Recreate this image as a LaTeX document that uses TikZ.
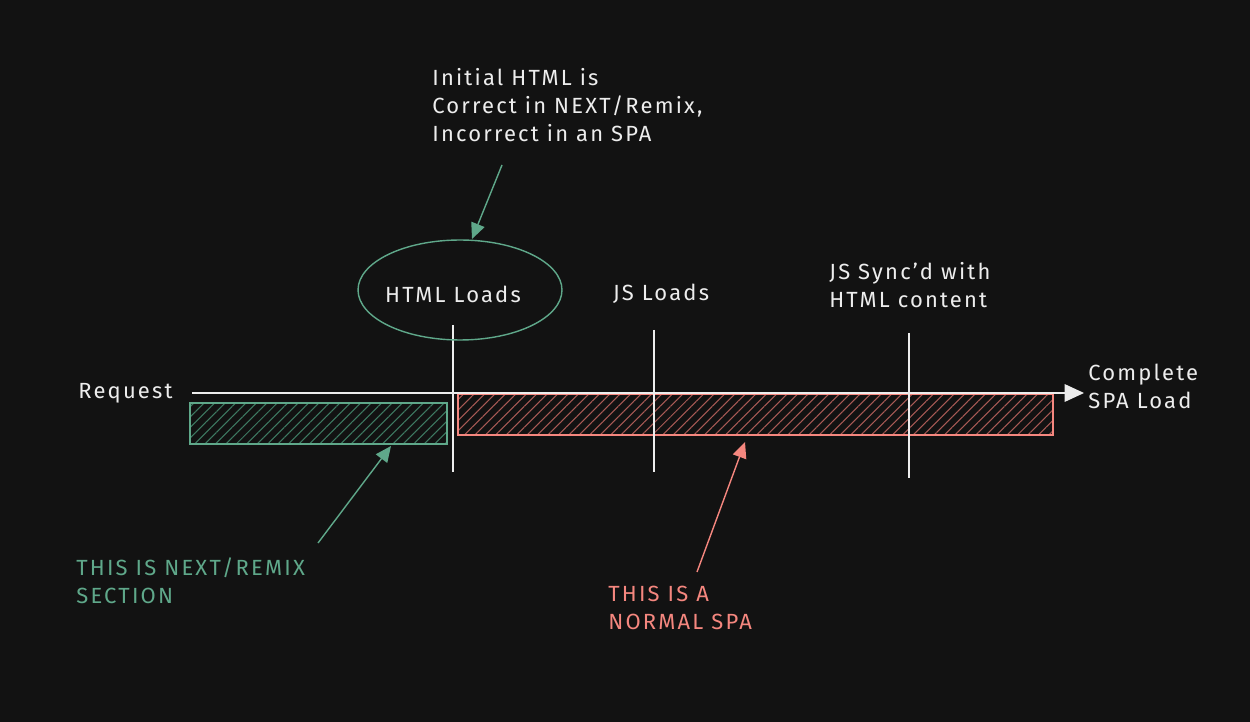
\documentclass[tikz,border=0pt]{standalone}
\usepackage{fontspec}
\setmainfont{Fira Sans}[LetterSpace=10]
\usetikzlibrary{arrows.meta,patterns.meta,shapes.geometric}
\definecolor{bg}{HTML}{121212}
\definecolor{grn}{HTML}{5FA88A}
\definecolor{grnh}{HTML}{3E7A62}
\definecolor{rd}{HTML}{F5877F}
\definecolor{rdh}{HTML}{A85A55}
\definecolor{wht}{HTML}{EDEDED}
\tikzset{
  lbl/.style={text=wht,font=\fontsize{12.5}{16}\selectfont,align=left,inner sep=0pt},
  tick/.style={draw=wht,line width=0.7pt},
  garrow/.style={draw=grn,line width=0.8pt,-{Triangle[length=9pt,width=8pt]}},
  rarrow/.style={draw=rd,line width=0.8pt,-{Triangle[length=9pt,width=8pt]}},
}
\begin{document}
\begin{tikzpicture}[x=0.02cm,y=-0.02cm]
\fill[bg] (0,0) rectangle (1250,722);
\useasboundingbox (0,0) rectangle (1250,722);
% bars
\draw[grn,line width=0.8pt,pattern={Lines[angle=45,distance=4.2pt,line width=0.6pt]},pattern color=grnh] (190,403) rectangle (447,444);
\draw[rd,line width=0.8pt,pattern={Lines[angle=45,distance=4.2pt,line width=0.6pt]},pattern color=rdh] (458,394) rectangle (1053,435);
% ticks
\coordinate (t1a) at (453,325); \coordinate (t1b) at (453,472);
\coordinate (t2a) at (654,330); \coordinate (t2b) at (654,472);
\coordinate (t3a) at (909,333); \coordinate (t3b) at (909,478);
\draw[tick] (t1a) -- (t1b);
\draw[tick] (t2a) -- (t2b);
\draw[tick] (t3a) -- (t3b);
% timeline
\coordinate (ls) at (192,393);
\coordinate (le) at (1084,393);
\draw[draw=wht,line width=0.7pt,-{Triangle[length=11pt,width=10pt]}] (ls) -- (le);
% ellipse
\node[ellipse,draw=grn,line width=0.8pt,minimum width=4.08cm,minimum height=2cm,inner sep=0pt] (ell) at (460,290) {};
% texts
\node[lbl,anchor=west] (req) at (78,393) {Request};
\node[lbl] (html) at (453,294) {HTML Loads};
\node[lbl] (js) at (661,294) {JS Loads};
\node[lbl,anchor=west] (sync) at (829,285) {JS Sync'd with\\HTML content};
\node[lbl,anchor=west] (comp) at (1088,386) {Complete\\SPA Load};
\node[lbl,anchor=west] (init) at (432,105) {Initial HTML is\\Correct in NEXT/Remix,\\Incorrect in an SPA};
\node[lbl,anchor=west,text=grn] (nr) at (76,581) {THIS IS NEXT/REMIX\\SECTION};
\node[lbl,anchor=west,text=rd] (spa) at (608,608) {THIS IS A\\NORMAL SPA};
% arrows
\coordinate (a1s) at (502,165); \coordinate (a1e) at (472,239);
\draw[garrow] (a1s) -- (a1e);
\coordinate (a2s) at (318,543); \coordinate (a2e) at (391,446);
\draw[garrow] (a2s) -- (a2e);
\coordinate (a3s) at (697,572); \coordinate (a3e) at (745,442);
\draw[rarrow] (a3s) -- (a3e);
\end{tikzpicture}
\end{document}
